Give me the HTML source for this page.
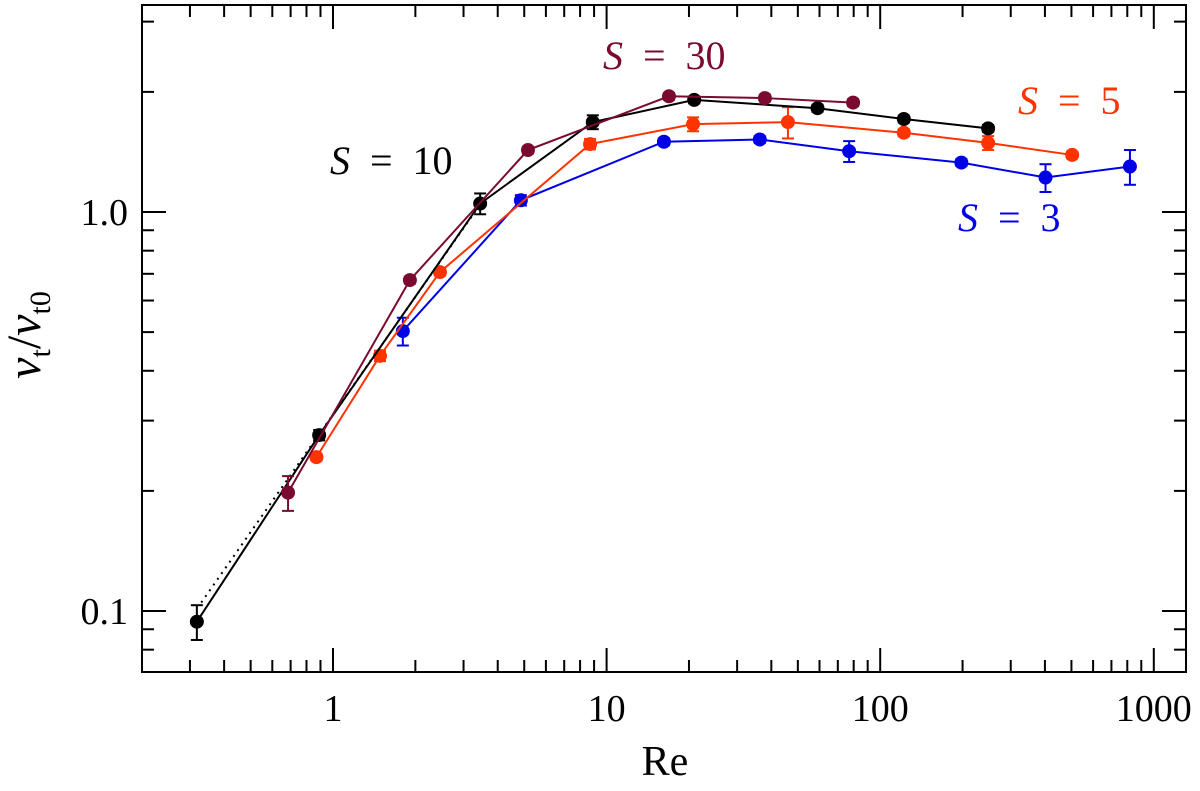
<!DOCTYPE html>
<html><head><meta charset="utf-8"><style>
body{margin:0;background:#fff}
svg text{font-family:"Liberation Serif",serif}
</style></head><body>
<svg id="chart" width="1200" height="786" viewBox="0 0 1200 786" xmlns="http://www.w3.org/2000/svg"></svg>
<script>
const xTickLabels = ["1","10","100","1000"];
const xTickValues = [1,10,100,1000];
const yTickLabels = ["0.1","1.0"];
const yTickValues = [0.1,1];
const blackRe  = [0.318,0.89,3.45,8.9,20.9,59,122,248];
const blackV   = [0.094,0.276,1.05,1.68,1.91,1.82,1.71,1.62];
const blackErr = [0.1,0.03,0.06,0.04,0.02,0.02,0.02,0.02];
const maroonRe  = [0.685,1.91,5.16,16.9,37.9,79.6];
const maroonV   = [0.198,0.675,1.43,1.95,1.93,1.88];
const maroonErr = [0.1,0.02,0.02,0.02,0.02,0.02];
const orangeRe  = [0.87,1.485,2.46,8.7,20.7,46,122,248,503];
const orangeV   = [0.243,0.436,0.707,1.48,1.66,1.68,1.58,1.49,1.39];
const orangeErr = [0.02,0.03,0.02,0.03,0.04,0.09,0.02,0.04,0.02];
const blueRe  = [1.8,4.86,16.2,36.3,77,198,402,818];
const blueV   = [0.503,1.07,1.5,1.52,1.42,1.33,1.22,1.30];
const blueErr = [0.08,0.03,0.02,0.02,0.06,0.02,0.08,0.1];
const dottedRe = [0.33,3.4];
const dottedV  = [0.105,1.03];

const L=142,R=1186,T=5,B=672;
function X(v){return 333+273.6*Math.log10(v);}
function Y(v){return 212-399*Math.log10(v);}
const svg=document.getElementById('chart');
const NS='http://www.w3.org/2000/svg';
function mk(tag,at,parent){const e=document.createElementNS(NS,tag);for(const k in at)e.setAttribute(k,at[k]);(parent||svg).appendChild(e);return e;}

const frame=mk('rect',{x:L,y:T,width:R-L,height:B-T,fill:'none',stroke:'#000','stroke-width':2});



const xt=mk('g',{});


for(let d=-1;d<=3;d++){for(let m=1;m<10;m++){const v=m*Math.pow(10,d);const x=X(v);if(x<L||x>R)continue;const len=m===1?24:12;
mk('line',{x1:x,y1:B,x2:x,y2:B-len,stroke:'#000','stroke-width':2},xt);
mk('line',{x1:x,y1:T,x2:x,y2:T+len,stroke:'#000','stroke-width':2},xt);}}
xTickValues.forEach((v,i)=>{const t=mk('text',{x:X(v),y:721,'text-anchor':'middle','font-size':38},xt);t.textContent=xTickLabels[i];

});
const yt=mk('g',{});


for(let d=-2;d<=0;d++){for(let m=1;m<10;m++){const v=m*Math.pow(10,d);const y=Y(v);if(y<T||y>B)continue;const len=m===1?24:12;
mk('line',{x1:L,y1:y,x2:L+len,y2:y,stroke:'#000','stroke-width':2},yt);
mk('line',{x1:R,y1:y,x2:R-len,y2:y,stroke:'#000','stroke-width':2},yt);}}
yTickValues.forEach((v,i)=>{const t=mk('text',{x:128,y:Y(v)+13,'text-anchor':'end','font-size':38},yt);t.textContent=yTickLabels[i];

});

const xl=mk('text',{x:665,y:775,'text-anchor':'middle','font-size':42});xl.textContent='Re';


const yl=mk('text',{x:0,y:0,'text-anchor':'middle','font-size':48,'font-style':'italic',transform:'translate(40,335) rotate(-90)'});
yl.innerHTML='ν<tspan font-size="30" font-style="normal" dy="10">t</tspan><tspan dy="-10" font-style="normal">/</tspan>ν<tspan font-size="30" font-style="normal" dy="10">t0</tspan>';



const dl=mk('polyline',{points:dottedRe.map((r,i)=>X(r)+','+Y(dottedV[i])).join(' '),fill:'none',stroke:'#000','stroke-width':2,'stroke-dasharray':'2,5'});



function series(name,re,v,err,col){
 const g=mk('g',{});
 
 
 mk('polyline',{points:re.map((r,i)=>X(r)+','+Y(v[i])).join(' '),fill:'none',stroke:col,'stroke-width':2},g);
 re.forEach((r,i)=>{const x=X(r),y1=Y(v[i]*(1+err[i])),y2=Y(v[i]*(1-err[i]));
  mk('line',{x1:x,y1:y1,x2:x,y2:y2,stroke:col,'stroke-width':2},g);
  mk('line',{x1:x-6,y1:y1,x2:x+6,y2:y1,stroke:col,'stroke-width':2},g);
  mk('line',{x1:x-6,y1:y2,x2:x+6,y2:y2,stroke:col,'stroke-width':2},g);
  const c=mk('circle',{cx:x,cy:Y(v[i]),r:7,fill:col},g);
  
  
 });
}
series('series-s3',blueRe,blueV,blueErr,'#0000e6');
series('series-s5',orangeRe,orangeV,orangeErr,'#ff3300');
series('series-s10',blackRe,blackV,blackErr,'#000');
series('series-s30',maroonRe,maroonV,maroonErr,'#7a0a30');

function lab(name,txt,x,y,col){const t=mk('text',{x:x,y:y,'font-size':40,fill:col});
 t.innerHTML='<tspan font-style="italic">S</tspan>&#160;&#160;=&#160;&#160;'+txt;
 
 }
lab('label-s30','30',603,69,'#7a0a30');
lab('label-s10','10',330,174,'#000');
lab('label-s5','5',1018,114,'#ff3300');
lab('label-s3','3',958,231,'#0000e6');
</script>
</body></html>
